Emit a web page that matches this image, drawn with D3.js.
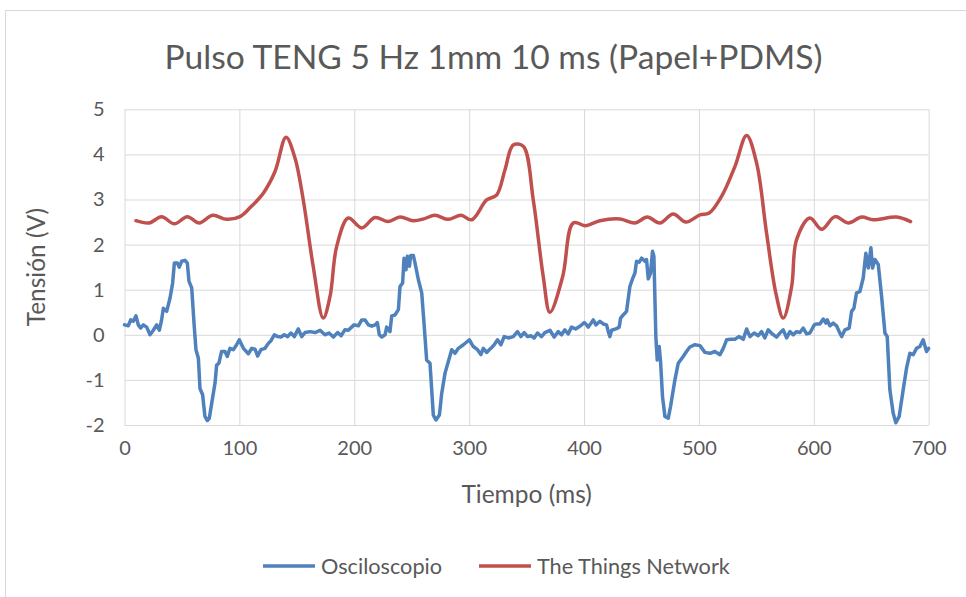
<!DOCTYPE html>
<html>
<head>
<meta charset="utf-8">
<script src="https://cdn.jsdelivr.net/npm/d3@7"></script>
<style>
  body { margin: 0; background: #fff; }
  text { font-family: Lato, "Open Sans", sans-serif; fill: #595959; }
</style>
</head>
<body>
<div id="chart"></div>
<script>
// tick labels
var xTicks = [0, 100, 200, 300, 400, 500, 600, 700];
var yTicks = [-2, -1, 0, 1, 2, 3, 4, 5];

// Osciloscopio (ms, V)
var oscTime = [0, 3.3, 5.4, 7.7, 10, 12, 14, 16.4, 19.3, 22.2, 25.1, 28, 30.3, 32.3, 33.8, 36.7, 39.6, 41.9, 43.4, 46, 47.7, 49.8, 52.7, 54.7, 56.1, 58.5, 60.5, 62.2, 64.3, 65.7, 68, 70, 72.1, 73.8, 75.9, 78.8, 80.2, 82.2, 84.5, 87.5, 89.5, 91.8, 94.7, 97.6, 99.9,
  103.5, 107.8, 110.7, 113.6, 115.9, 118.8, 122.3, 125.2, 127.5, 130.4, 133.3, 136.2, 139.1, 142, 144.9, 147.8, 151.3, 154.2, 157.1, 161.5, 165.8, 170.2, 174.5, 178, 181.8, 185.6, 188.5, 191.9, 194.8, 197.7,
  199.8, 203.6, 206.5, 209.4, 212.3, 215.2, 218.1, 220.1, 221.8, 223.9, 226.8, 228.2, 231.1, 232.6, 235.5, 238.4, 239.8, 242.1, 243.3, 245, 246.2, 248, 249.1, 251.4, 252.9, 255.8, 258.7, 260.7, 263, 265.9, 267.4, 268.8, 271.1, 274.1, 276.1, 279, 281.9, 284.8, 287.7, 290.6, 295, 300.2,
  303.6, 307.3, 310.2, 312.3, 315.2, 318.9, 321.8, 324.7, 327.6, 330.5, 334, 338.4, 342.1, 345, 347.9, 350.8, 353.7, 356.6, 359.5, 363, 365.9, 370.3, 374, 377.5, 380.4, 383.3, 386.2, 389.1, 392.6, 396.4, 400.2,
  401.6, 403.7, 408, 410.3, 413.8, 416.7, 419.6, 421.1, 422.5, 424, 427.7, 430.6, 431.8, 434.1, 437, 439.9, 442.2, 444.3, 445.7, 448, 450.1, 453, 454.4, 455.9, 457.9, 459.6, 460.8, 462.5, 463.7, 465.4, 466.6, 468.3, 470.4, 473.3, 475.3, 479.1, 482, 486.3, 489.2, 492.1, 496.5,
  500.9, 505.2, 509.6, 513.9, 518.3, 521.2, 524.1, 527.8, 531.3, 534.8, 538.6, 541.5, 544.4, 548.1, 551.6, 554.5, 557.4, 560.3, 563.8, 567.6, 570.5, 573.4, 576.3, 579.2, 582.1, 585, 587.9, 590.8, 593.7, 596.6, 600.4,
  602.4, 605.3, 608.2, 610.5, 611.7, 614, 616.9, 619.8, 622.1, 624.2, 627.1, 630.8, 632.9, 634.9, 637.2, 640.1, 643, 645.3, 647.4, 649.7, 651.1, 653.2, 656.1, 659, 661.9, 663.9, 666.2, 669.1, 671.4, 674.3, 677.8, 680.7, 683.6, 686.5, 689.4, 692.3, 695.2, 698.1, 700];
var oscVolt = [0.22, 0.20, 0.33, 0.30, 0.42, 0.22, 0.15, 0.22, 0.17, 0.0, 0.10, 0.22, 0.10, 0.33, 0.59, 0.52, 0.81, 1.15, 1.59, 1.59, 1.50, 1.63, 1.65, 1.59, 1.19, 1.04, 0.26, -0.33, -0.52, -1.19, -1.33, -1.81, -1.90, -1.85, -1.52, -1.07, -0.67, -0.63, -0.37, -0.37, -0.48, -0.30, -0.33, -0.22, -0.11,
  -0.30, -0.42, -0.30, -0.32, -0.47, -0.33, -0.30, -0.19, -0.13, 0.0, -0.04, -0.05, 0.0, -0.04, 0.04, -0.04, 0.13, -0.04, 0.05, 0.07, 0.05, 0.10, 0.0, 0.04, -0.05, 0.05, -0.02, 0.11, 0.10, 0.17,
  0.22, 0.20, 0.33, 0.33, 0.22, 0.19, 0.22, 0.27, 0.0, -0.05, 0.0, 0.17, 0.07, 0.42, 0.44, 0.56, 1.07, 1.15, 1.70, 1.44, 1.74, 1.52, 1.76, 1.76, 1.59, 1.22, 0.93, 0.26, -0.56, -0.63, -1.22, -1.78, -1.89, -1.78, -1.30, -0.85, -0.59, -0.33, -0.41, -0.30, -0.22, -0.11,
  -0.26, -0.33, -0.44, -0.30, -0.39, -0.30, -0.22, -0.11, -0.22, -0.04, -0.07, -0.04, 0.07, -0.04, 0.05, -0.04, -0.02, -0.07, 0.04, -0.04, 0.05, 0.10, -0.05, 0.07, 0.0, 0.11, 0.02, 0.17, 0.13, 0.19, 0.27,
  0.24, 0.17, 0.33, 0.22, 0.30, 0.24, 0.22, 0.07, -0.04, 0.10, 0.13, 0.17, 0.37, 0.44, 0.52, 1.07, 1.24, 1.37, 1.63, 1.61, 1.70, 1.63, 1.67, 1.24, 1.37, 1.85, 1.74, -0.04, -0.56, -0.26, -0.59, -1.37, -1.81, -1.85, -1.59, -1.0, -0.63, -0.48, -0.37, -0.27, -0.22,
  -0.24, -0.39, -0.41, -0.37, -0.44, -0.30, -0.11, -0.10, -0.10, -0.04, -0.10, 0.13, -0.04, 0.04, -0.02, 0.07, -0.07, 0.11, 0.02, -0.05, 0.04, 0.11, -0.07, 0.07, 0.0, 0.07, 0.05, 0.15, 0.02, 0.04, 0.22,
  0.24, 0.24, 0.35, 0.26, 0.33, 0.20, 0.26, 0.20, 0.07, -0.04, 0.11, 0.15, 0.52, 0.59, 0.93, 0.96, 1.26, 1.81, 1.48, 1.93, 1.48, 1.67, 1.56, 0.85, 0.04, -0.04, -1.22, -1.74, -1.95, -1.81, -1.22, -0.74, -0.41, -0.44, -0.30, -0.26, -0.11, -0.37, -0.30];

// The Things Network (ms, V)
var ttnTime = [10, 21.6, 32.3, 43.4, 54.7, 65.1, 76.7, 88.9, 100.5, 109, 120.8, 131, 140.6, 148.4, 155.6, 164.3, 173, 178.9, 184.7, 194.8, 206.4, 218, 229.6, 239.8, 251.3, 260.5, 270.2, 281.8, 292.9, 302.2, 315.2, 323.9, 331.2, 338.4, 347.1, 355.8, 364.5, 370.3, 381.4, 390.6, 401.6, 413.8, 431.2, 444.3, 455, 466, 477.6, 488.7, 500.9, 509, 519.7, 531.3, 541.5, 550.2, 558.9, 567, 573.4, 580.7, 585, 596.6, 606.8, 618.4, 629.9, 641.6, 651.7, 672, 684.2];
var ttnVolt = [2.53, 2.48, 2.62, 2.46, 2.62, 2.48, 2.65, 2.56, 2.62, 2.81, 3.14, 3.62, 4.38, 3.92, 2.99, 1.51, 0.37, 0.85, 1.96, 2.59, 2.37, 2.60, 2.51, 2.61, 2.53, 2.57, 2.65, 2.56, 2.65, 2.55, 2.99, 3.10, 3.66, 4.21, 4.18, 2.99, 1.29, 0.50, 1.29, 2.48, 2.42, 2.53, 2.57, 2.48, 2.61, 2.48, 2.68, 2.50, 2.66, 2.70, 3.07, 3.73, 4.42, 3.81, 2.25, 0.92, 0.37, 1.07, 2.11, 2.59, 2.34, 2.62, 2.48, 2.61, 2.55, 2.61, 2.51];

var seriesNames = ['Osciloscopio', 'The Things Network'];
var seriesColors = ['#4F81BD', '#C0504D'];

var W = 966, H = 597;
// plot area edges (pixels)
var plotL = 124.5, plotR = 928.7, plotT = 109.3, plotB = 425;

var svg = d3.select('#chart')
  .append('svg')
    .attr('width', W)
    .attr('height', H);

// chart area border
svg.append('rect')
  .attr('x', 5.5)
  .attr('y', 10.5)
  .attr('width', 990)
  .attr('height', 620)
  .attr('fill', '#fff')
  .attr('stroke', '#d9d9d9');

var x = d3.scaleLinear().domain([0, 700]).range([plotL, plotR]);
var y = d3.scaleLinear().domain([-2, 5]).range([plotB, plotT]);

// gridlines + tick labels (plain hyphen for negatives, like Excel)
var xAxis = svg.append('g')
  .attr('transform', 'translate(0,' + plotB + ')')
  .call(d3.axisBottom(x).tickValues(xTicks).tickSize(-(plotB - plotT)).tickPadding(16).tickFormat(d => String(d)));

var yAxis = svg.append('g')
  .attr('transform', 'translate(' + plotL + ',0)')
  .call(d3.axisLeft(y).tickValues(yTicks).tickSize(-(plotR - plotL)).tickPadding(20).tickFormat(d => String(d)));

[xAxis, yAxis].forEach(function(g) {
  g.select('.domain').remove();
  g.selectAll('.tick line').attr('stroke', '#d9d9d9').attr('stroke-width', 1);
  g.selectAll('.tick text')
    .style('font-family', 'Lato, "Open Sans", sans-serif')
    .style('font-size', '20px')
    .attr('fill', '#595959');
});

// lines
var osc = oscTime.map(function(t, i) { return [t, oscVolt[i]]; });
var ttn = ttnTime.map(function(t, i) { return [t, ttnVolt[i]]; });

var line = d3.line()
  .x(d => x(d[0]))
  .y(d => y(d[1]));

svg.append('path')
  .datum(osc)
  .attr('fill', 'none')
  .attr('stroke', seriesColors[0])
  .attr('stroke-width', 3.5)
  .attr('stroke-linejoin', 'round')
  .attr('stroke-linecap', 'round')
  .attr('d', line.curve(d3.curveLinear));

svg.append('path')
  .datum(ttn)
  .attr('fill', 'none')
  .attr('stroke', seriesColors[1])
  .attr('stroke-width', 3.5)
  .attr('stroke-linecap', 'round')
  .attr('d', line.curve(d3.curveCatmullRom.alpha(0.5)));

// title + axis titles
svg.append('text')
  .attr('x', 493.5)
  .attr('y', 69)
  .attr('text-anchor', 'middle')
  .style('font-size', '33.6px')
  .text('Pulso TENG 5 Hz 1mm 10 ms (Papel+PDMS)');

svg.append('text')
  .attr('x', (plotL + plotR) / 2)
  .attr('y', 503)
  .attr('text-anchor', 'middle')
  .style('font-size', '24.5px')
  .text('Tiempo (ms)');

svg.append('text')
  .attr('transform', 'translate(45,' + ((plotT + plotB) / 2) + ') rotate(-90)')
  .attr('text-anchor', 'middle')
  .style('font-size', '24.5px')
  .text('Tensión (V)');

// legend
var legendX = [263, 479];
var legend = svg.selectAll('.legend')
  .data(seriesNames)
  .enter()
  .append('g')
    .attr('class', 'legend')
    .attr('transform', (d, i) => 'translate(' + legendX[i] + ',566)');

legend.append('line')
  .attr('x1', 0).attr('x2', 52)
  .attr('stroke', (d, i) => seriesColors[i])
  .attr('stroke-width', 3.5);

legend.append('text')
  .attr('x', 58)
  .attr('y', 7.5)
  .style('font-size', '21.7px')
  .text(d => d);
</script>
</body>
</html>
